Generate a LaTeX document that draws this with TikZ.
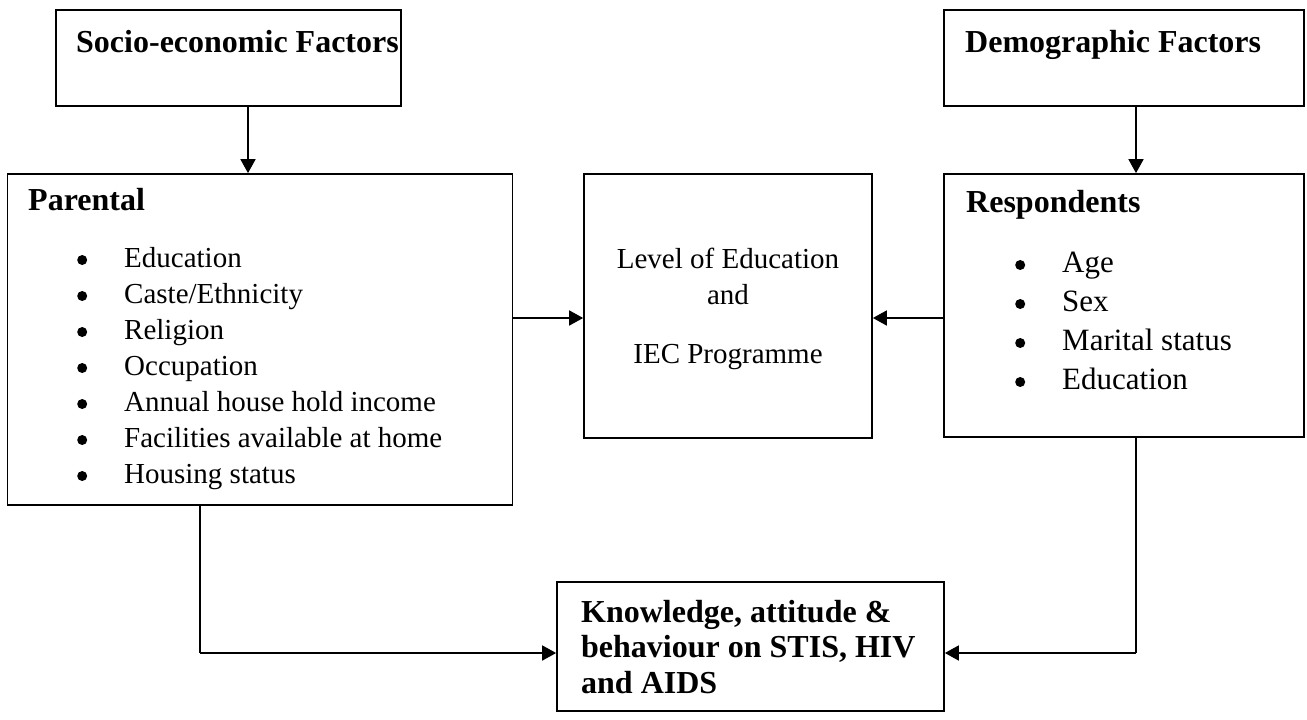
\documentclass[tikz,border=0pt]{standalone}
\usepackage{fontspec}
\setmainfont{Liberation Serif}
\usetikzlibrary{arrows.meta}
\tikzset{
  box/.style={draw, line width=1.7pt, inner sep=0pt},
  conn/.style={line width=1.7pt},
  arr/.style={conn, -{Triangle[length=14pt,width=15pt]}},
  head/.style={anchor=base west, inner sep=0pt, font=\fontsize{32}{36}\selectfont\bfseries},
  body/.style={anchor=base west, inner sep=0pt, font=\fontsize{29}{36}\selectfont},
  bodyr/.style={anchor=base west, inner sep=0pt, font=\fontsize{31}{39}\selectfont},
  mid/.style={anchor=base, inner sep=0pt, font=\fontsize{29}{36}\selectfont},
}
\newcommand{\bul}[1]{\makebox[47pt][l]{\raisebox{2pt}{\tikz[x=1pt,y=1pt]\fill (0,0) circle (5pt);}}#1}
\begin{document}
\begin{tikzpicture}[x=1pt,y=-1pt]
\useasboundingbox (0,0) rectangle (1307,720);
% boxes
\node[box, minimum width=345pt, minimum height=96pt] (soc) at (228.5,58) {};
\node[box, minimum width=360pt, minimum height=96pt] (dem) at (1124,58) {};
\node[box, minimum width=505pt, minimum height=331pt] (par) at (260,339.5) {};
\node[box, minimum width=288pt, minimum height=264pt] (lev) at (728,306) {};
\node[box, minimum width=360pt, minimum height=263pt] (res) at (1124,305.5) {};
\node[box, minimum width=387pt, minimum height=129pt] (kno) at (750.5,646.5) {};
% texts
\node[head] (t1) at (76,52) {Socio-economic Factors};
\node[head] (t2) at (965,52) {Demographic Factors};
\node[head] (t3) at (28,210) {Parental};
\node[body] (p1) at (77,267) {\bul{Education}};
\node[body] (p2) at (77,303) {\bul{Caste/Ethnicity}};
\node[body] (p3) at (77,339) {\bul{Religion}};
\node[body] (p4) at (77,375) {\bul{Occupation}};
\node[body] (p5) at (77,411) {\bul{Annual house hold income}};
\node[body] (p6) at (77,447) {\bul{Facilities available at home}};
\node[body] (p7) at (77,483) {\bul{Housing status}};
\node[head] (t4) at (966,212) {Respondents};
\node[bodyr] (r1) at (1015,272) {\bul{Age}};
\node[bodyr] (r2) at (1015,311) {\bul{Sex}};
\node[bodyr] (r3) at (1015,350) {\bul{Marital status}};
\node[bodyr] (r4) at (1015,389) {\bul{Education}};
\node[mid] (m1) at (728,268) {Level of Education};
\node[mid] (m2) at (728,304) {and};
\node[mid] (m3) at (728,363) {IEC Programme};
\node[head] (k1) at (581,622) {Knowledge, attitude \&};
\node[head] (k2) at (581,657) {behaviour on STIS, HIV};
\node[head] (k3) at (581,693) {and AIDS};
% connectors
\draw[arr] (soc.south -| 248,0) -- (par.north -| 248,0);
\draw[arr] (dem.south -| 1136,0) -- (res.north -| 1136,0);
\draw[arr] (par.east |- 0,318) -- (lev.west |- 0,318);
\draw[arr] (res.west |- 0,318) -- (lev.east |- 0,318);
\coordinate (lc) at (200,653);
\coordinate (rc) at (1136,653);
\draw[conn] (par.south -| lc) -- (lc);
\draw[arr] (lc) -- (kno.west |- lc);
\draw[conn] (res.south -| rc) -- (rc);
\draw[arr] (rc) -- (kno.east |- rc);
\end{tikzpicture}
\end{document}
